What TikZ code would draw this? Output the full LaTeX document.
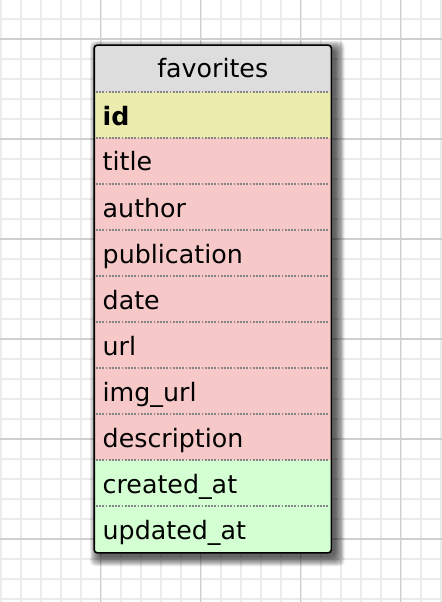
\documentclass[tikz,border=0pt]{standalone}
\usepackage{fontspec}
\setmainfont{DejaVu Sans}
\definecolor{hdrcol}{HTML}{DDDDDD}
\definecolor{keycol}{HTML}{ECECAE}
\definecolor{fieldcol}{HTML}{F7C8C8}
\definecolor{timecol}{HTML}{D4FFD2}
\definecolor{finegridcol}{HTML}{EBEBEB}
\definecolor{majorgridcol}{HTML}{CFCFCF}
\definecolor{sepcol}{HTML}{858585}
\tikzset{
  finegrid/.style={draw=finegridcol, line width=2bp},
  majorgrid/.style={draw=majorgridcol, line width=1.8bp},
  tablebox/.style={draw=black, line width=1.6bp, rounded corners=3bp, minimum width=235.5bp, minimum height=506bp, inner sep=0pt, fill=white},
  shadowlayer/.style={fill=black, fill opacity=0.085, rounded corners=5bp},
  sepline/.style={draw=sepcol, line width=1.8bp, dash pattern=on 1.8bp off 1.4bp},
  fieldtxt/.style={anchor=base west, inner sep=0pt, font=\fontsize{25.3bp}{30bp}\selectfont},
  titletxt/.style={anchor=base, inner sep=0pt, font=\fontsize{25.3bp}{30bp}\selectfont}
}
\begin{document}
\begin{tikzpicture}[x=1bp,y=-1bp]
\useasboundingbox (0,0) rectangle (442,602);
\fill[white] (0,0) rectangle (442,602);
% grid
\foreach \gx in {0.5,20.5,...,440.5} {\draw[finegrid] (\gx,0) -- (\gx,602);}
\foreach \gy in {19,39,...,599} {\draw[finegrid] (0,\gy) -- (442,\gy);}
\foreach \gx in {100.5,200.5,300.5,400.5} {\draw[majorgrid] (\gx,0) -- (\gx,602);}
\foreach \gy in {39,139,239,339,439,539} {\draw[majorgrid] (0,\gy) -- (442,\gy);}
% shadow
\foreach \e in {0,1,...,9} {\fill[shadowlayer] (99+\e-9,50+\e-9) rectangle (335.5-\e+9,557-\e+9);}
% table
\node[tablebox] (tbl) at (212.75,299) {};
\begin{scope}
  \clip[rounded corners=3bp] (tbl.north west) rectangle (tbl.south east);
  \fill[hdrcol] (95,46) rectangle (330.5,92);
  \fill[keycol] (95,92) rectangle (330.5,138);
  \fill[fieldcol] (95,138) rectangle (330.5,460);
  \fill[timecol] (95,460) rectangle (330.5,552);
\end{scope}
\foreach \sy in {92,138,184,230,276,322,368,414,460,506} {\draw[sepline] (96,\sy) -- (329.5,\sy);}
\draw[line width=1.6bp, rounded corners=3bp] (tbl.north west) rectangle (tbl.south east);
% texts
\node[titletxt] (t-title) at (212.75,77.5) {favorites};
\node[fieldtxt] (f-id) at (102.5,125.5) {\textbf{id}};
\node[fieldtxt] (f-title) at (102.5,171) {title};
\node[fieldtxt] (f-author) at (102.5,217) {author};
\node[fieldtxt] (f-publication) at (102.5,263) {publication};
\node[fieldtxt] (f-date) at (102.5,309) {date};
\node[fieldtxt] (f-url) at (102.5,355) {url};
\node[fieldtxt] (f-imgurl) at (102.5,401) {img\_url};
\node[fieldtxt] (f-description) at (102.5,447) {description};
\node[fieldtxt] (f-createdat) at (102.5,493) {created\_at};
\node[fieldtxt] (f-updatedat) at (102.5,539) {updated\_at};
\end{tikzpicture}
\end{document}
